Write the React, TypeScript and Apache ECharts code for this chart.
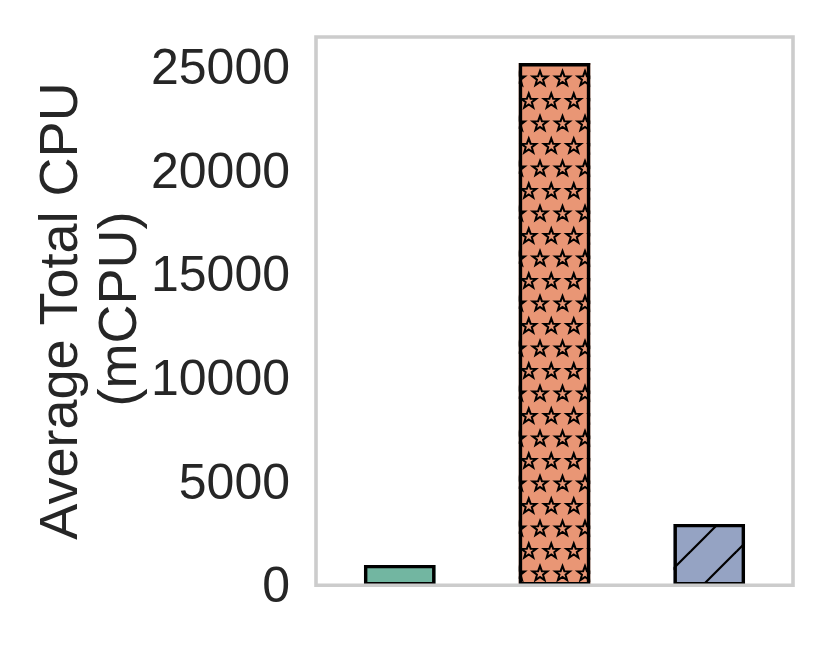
import React, { useEffect, useRef } from "react";
import * as echarts from "echarts";

const categories = ["A", "B", "C"];
const cpuValues = [985, 25200, 2960];
const barColors = ["#72b6a1", "#e99675", "#95a3c3"];
const yTicks = [0, 5000, 10000, 15000, 20000, 25000];
const yMax = 26460;
const titleLines = ["Average Total CPU", "(mCPU)"];

function starCanvas(): HTMLCanvasElement {
  const c = document.createElement("canvas");
  c.width = 45;
  c.height = 45;
  const ctx = c.getContext("2d")!;
  const R = 7.8;
  const r = 3.2;
  const pts: [number, number][] = [
    [11.25, 11.25],
    [33.75, 11.25],
    [0, 33.75],
    [22.5, 33.75],
    [45, 33.75],
  ];
  ctx.strokeStyle = "#000";
  ctx.lineWidth = 2;
  ctx.lineJoin = "miter";
  for (const [cx, cy] of pts) {
    ctx.beginPath();
    for (let i = 0; i < 10; i++) {
      const ang = -Math.PI / 2 + (i * Math.PI) / 5;
      const rad = i % 2 === 0 ? R : r;
      const x = cx + rad * Math.cos(ang);
      const y = cy + rad * Math.sin(ang);
      if (i === 0) ctx.moveTo(x, y);
      else ctx.lineTo(x, y);
    }
    ctx.closePath();
    ctx.stroke();
  }
  return c;
}

function hatchCanvas(): HTMLCanvasElement {
  const c = document.createElement("canvas");
  c.width = 46;
  c.height = 46;
  const ctx = c.getContext("2d")!;
  ctx.strokeStyle = "#000";
  ctx.lineWidth = 2.2;
  const segs = [
    [-4, 50, 50, -4],
    [-27, 27, 27, -27],
    [19, 73, 73, 19],
  ];
  for (const [x1, y1, x2, y2] of segs) {
    ctx.beginPath();
    ctx.moveTo(x1, y1);
    ctx.lineTo(x2, y2);
    ctx.stroke();
  }
  return c;
}

export default function App() {
  const ref = useRef<HTMLDivElement>(null);
  useEffect(() => {
    if (!ref.current) return;
    const chart = echarts.init(ref.current, undefined, { renderer: "svg" });
    const star = starCanvas();
    const hatch = hatchCanvas();
    const patterns: any[] = [
      null,
      { image: star, repeat: "repeat", imageWidth: 45, imageHeight: 45, x: 36.75, y: 13.75 },
      { image: hatch, repeat: "repeat", imageWidth: 46, imageHeight: 46, x: 3, y: 0 },
    ];
    const font = "'Liberation Sans', Arial, sans-serif";
    const BW = 71.5;
    const fillData = categories.map((_, i) => ({
      value: [i, cpuValues[i]],
      itemStyle: { color: barColors[i], borderWidth: 0 },
    }));
    const patternData = categories.map((_, i) => ({
      value: [i, cpuValues[i]],
      itemStyle: {
        color: patterns[i] ? patterns[i] : "rgba(0,0,0,0)",
        borderWidth: 0,
      },
    }));
    const edgeData = categories.map((_, i) => ({
      value: [i, cpuValues[i]],
      itemStyle: { color: "rgba(0,0,0,0)", borderColor: "#000", borderWidth: 3.4 },
    }));
    chart.setOption({
      animation: false,
      backgroundColor: "#ffffff",
      grid: {
        left: 316,
        top: 37,
        width: 477,
        height: 548.3,
        show: true,
        z: 10,
        borderColor: "#cccccc",
        borderWidth: 3.6,
        backgroundColor: "transparent",
      },
      xAxis: {
        type: "value",
        min: -0.541,
        max: 2.541,
        show: false,
      },
      yAxis: {
        type: "value",
        min: 0,
        max: yMax,
        interval: 5000,
        axisLine: { show: false },
        axisTick: { show: false },
        splitLine: { show: false },
        axisLabel: {
          margin: 26,
          fontSize: 50,
          fontFamily: font,
          color: "#262626",
          showMaxLabel: false,
          formatter: (v: number) => (yTicks.includes(v) ? String(v) : ""),
        },
      },
      series: [
        { type: "bar", barWidth: BW, barGap: "-100%", data: fillData, z: 2, silent: true },
        { type: "bar", barWidth: BW, barGap: "-100%", data: patternData, z: 3, silent: true },
        { type: "bar", barWidth: BW, barGap: "-100%", data: edgeData, z: 4 },
      ],
      graphic: [
        {
          type: "text",
          x: 58,
          y: 311,
          rotation: Math.PI / 2,
          style: {
            text: titleLines[0],
            font: `54px ${font}`,
            fill: "#262626",
            align: "center",
            verticalAlign: "middle",
          },
        },
        {
          type: "text",
          x: 117,
          y: 309,
          rotation: Math.PI / 2,
          style: {
            text: titleLines[1],
            font: `54px ${font}`,
            fill: "#262626",
            align: "center",
            verticalAlign: "middle",
          },
        },
      ],
    });
    return () => chart.dispose();
  }, []);
  return (
    <div
      ref={ref}
      style={{ position: "fixed", left: 0, top: 0, width: 830, height: 651 }}
    />
  );
}
